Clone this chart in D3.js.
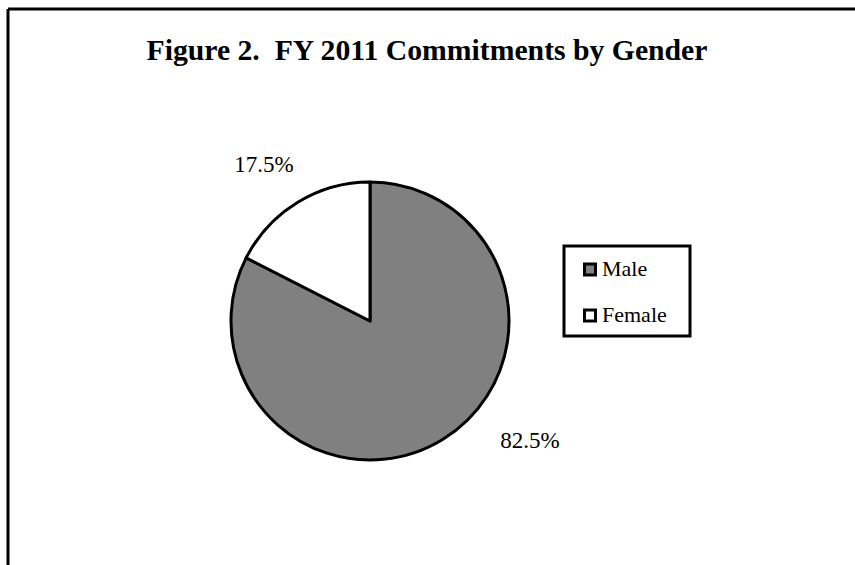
<!DOCTYPE html>
<html><head><meta charset="utf-8">
<script src="https://cdn.jsdelivr.net/npm/d3@7"></script>
<style>body{margin:0;background:#fff}svg{display:block}text{font-family:"Liberation Serif","Times New Roman",serif}</style>
</head><body>
<script>
const categories = ["Male", "Female"];
const values = [82.5, 17.5];
const labels = ["82.5%", "17.5%"];
const colors = ["#808080", "#ffffff"];
const title = "Figure 2.  FY 2011 Commitments by Gender";

const W = 855, H = 565;
const svg = d3.select("body").append("svg").attr("width", W).attr("height", H);

// frame (top and left lines)
svg.append("line").attr("x1", 8).attr("y1", 9).attr("x2", W).attr("y2", 9).attr("stroke", "#000").attr("stroke-width", 3);
svg.append("line").attr("x1", 8).attr("y1", 9).attr("x2", 8).attr("y2", H).attr("stroke", "#000").attr("stroke-width", 3);

svg.append("text").attr("x", 427).attr("y", 60).attr("text-anchor", "middle")
  .attr("font-size", 30).attr("font-weight", "bold").attr("textLength", 561)
  .attr("lengthAdjust", "spacingAndGlyphs").style("white-space", "pre").text(title);

const cx = 370, cy = 321, r = 139;
const pie = d3.pie().sort(null).value(d => d)(values);
const arc = d3.arc().innerRadius(0).outerRadius(r);
const g = svg.append("g").attr("transform", `translate(${cx},${cy})`);
g.selectAll("path").data(pie).join("path")
  .attr("d", arc).attr("fill", (d, i) => colors[i])
  .attr("stroke", "#000").attr("stroke-width", 3).attr("stroke-linejoin", "round");

const labelPos = [[160, 127], [-106, -149]];
g.selectAll("text.lbl").data(pie).join("text").attr("class", "lbl")
  .attr("x", (d, i) => labelPos[i][0]).attr("y", (d, i) => labelPos[i][1])
  .attr("text-anchor", "middle").attr("font-size", 23).text((d, i) => labels[i]);

// legend
const lg = svg.append("g");
lg.append("rect").attr("x", 564).attr("y", 246).attr("width", 126).attr("height", 90)
  .attr("fill", "#fff").attr("stroke", "#000").attr("stroke-width", 3);
const ly = d3.scalePoint().domain(categories).range([269.5, 315.5]);
categories.forEach((c, i) => {
  lg.append("rect").attr("x", 584.5).attr("y", ly(c) - 5.5).attr("width", 11).attr("height", 11)
    .attr("fill", colors[i]).attr("stroke", "#000").attr("stroke-width", 3);
  lg.append("text").attr("x", 602).attr("y", ly(c) + 6.5).attr("font-size", 22).text(c);
});
</script>
</body></html>
